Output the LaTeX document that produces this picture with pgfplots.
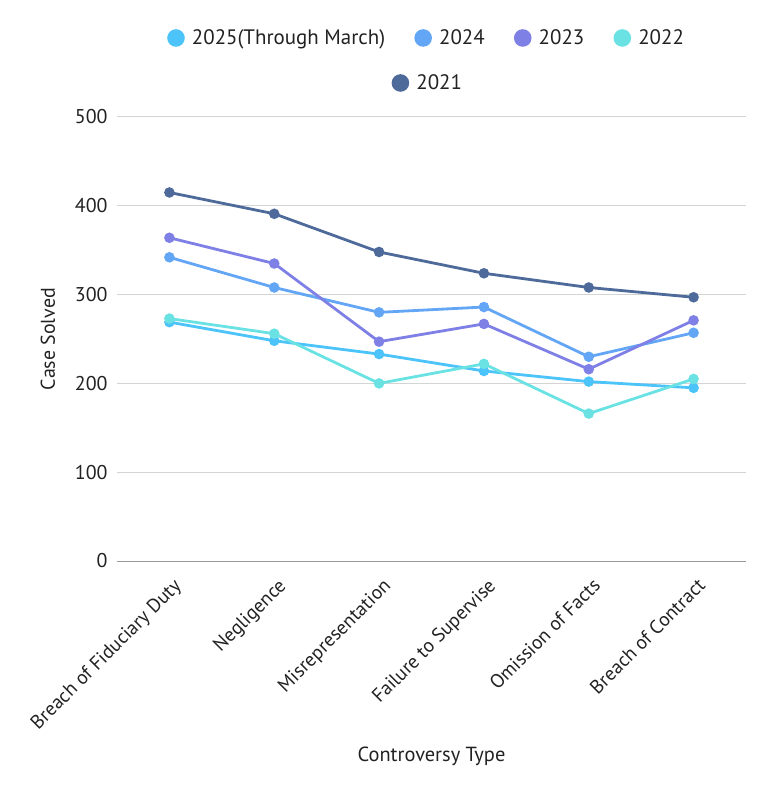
\documentclass[border=0pt]{standalone}
\usepackage{fontspec}
\setmainfont{PT Sans}
\usepackage{pgfplots}
\pgfplotsset{compat=1.18}

\definecolor{c2025}{HTML}{4CC3F9}
\definecolor{c2024}{HTML}{62A6F5}
\definecolor{c2023}{HTML}{7F80E6}
\definecolor{c2022}{HTML}{6AE2E3}
\definecolor{c2021}{HTML}{4E6A9A}
\definecolor{gridgray}{HTML}{D4D4D4}
\definecolor{axisgray}{HTML}{9A9A9A}
\definecolor{txt}{HTML}{222222}

\begin{document}
\begin{tikzpicture}
  \pgfplotsset{
    line/.style={line width=2.8bp, mark=*, mark size=3.8bp, mark options={solid}},
    dotlegend/.style={legend image code/.code={\fill[##1, draw=none] (0bp,0bp) circle (8.8bp); \path[draw=none] (-9bp,0bp) -- (14bp,0bp);}},
  }
  \begin{axis}[
    scale only axis,
    width=629bp, height=444bp,
    xmin=-0.5, xmax=5.5, ymin=0, ymax=500,
    xtick={0,...,5},
    xticklabels={Breach of Fiduciary Duty,Negligence,Misrepresentation,Failure to Supervise,Omission of Facts,Breach of Contract},
    ytick={0,100,...,500},
    axis y line*=left,
    axis x line*=bottom,
    y axis line style={draw=none},
    x axis line style={draw=axisgray, line width=1bp, -},
    ymajorgrids,
    grid style={draw=gridgray, line width=1bp},
    major tick length=0pt,
    /pgf/number format/assume math mode=true,
    yticklabel style={font=\fontsize{20}{22}\selectfont, text=txt, xshift=-6bp},
    xticklabel style={rotate=45, anchor=north east, font=\fontsize{19.5}{21}\selectfont, text=txt, xshift=-6bp, yshift=-10bp},
    ylabel={Case Solved},
    ylabel style={font=\fontsize{20}{22}\selectfont, text=txt, at={(axis description cs:-0.11,0.5)}, anchor=center},
    xlabel={Controversy Type},
    xlabel style={font=\fontsize{20.5}{22}\selectfont, text=txt, at={(axis description cs:0.5,-0.439)}, anchor=center},
    legend columns=4,
    dotlegend,
    legend style={at={(0.492,1.178)}, anchor=center, draw=none, fill=none,
      font=\fontsize{21}{23}\selectfont, text=txt,
      /tikz/every even column/.append style={column sep=27bp}},
    legend cell align=left,
  ]
    \addplot[line, c2025] coordinates {(0,269) (1,248) (2,233) (3,214) (4,202) (5,195)};
    \addplot[line, c2024] coordinates {(0,342) (1,308) (2,280) (3,286) (4,230) (5,257)};
    \addplot[line, c2023] coordinates {(0,364) (1,335) (2,247) (3,267) (4,216) (5,271)};
    \addplot[line, c2022] coordinates {(0,273) (1,256) (2,200) (3,222) (4,166) (5,205)};
    \addplot[line, c2021] coordinates {(0,415) (1,391) (2,348) (3,324) (4,308) (5,297)};
    \legend{2025(Through March),2024,2023,2022}
  \end{axis}
  \begin{axis}[
    scale only axis,
    width=629bp, height=444bp,
    xmin=0, xmax=1, ymin=0, ymax=1,
    hide axis,
    dotlegend,
    legend style={at={(0.494,1.0766)}, anchor=center, draw=none, fill=none,
      font=\fontsize{21}{23}\selectfont, text=txt},
  ]
    \addlegendimage{c2021, line width=2.8bp}
    \addlegendentry{2021}
  \end{axis}
  \pgfresetboundingbox
  \path[use as bounding box] (-117bp,-227bp) rectangle (651bp,561bp);
\end{tikzpicture}
\end{document}
